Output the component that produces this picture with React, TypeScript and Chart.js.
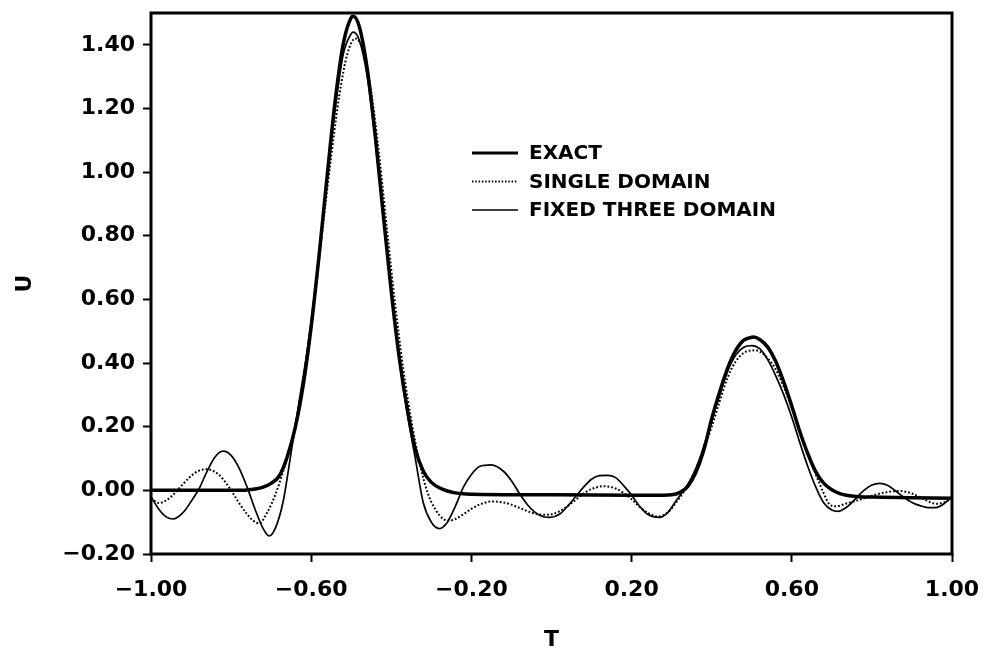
import React, { useEffect, useRef } from "react";
import { Chart, registerables } from "chart.js";

Chart.register(...registerables);

// ---- data ----
const tExact = [-1.0, -0.9, -0.8, -0.76, -0.74, -0.72, -0.7, -0.68, -0.66, -0.64, -0.62, -0.6, -0.58, -0.56, -0.54, -0.52, -0.5, -0.495, -0.48, -0.46, -0.44, -0.42, -0.4, -0.38, -0.36, -0.34, -0.32, -0.3, -0.28, -0.26, -0.24, -0.22, -0.2, 0.0, 0.2, 0.28, 0.3, 0.32, 0.34, 0.36, 0.38, 0.4, 0.42, 0.44, 0.46, 0.48, 0.5, 0.505, 0.52, 0.54, 0.56, 0.58, 0.6, 0.62, 0.64, 0.66, 0.68, 0.7, 0.72, 0.74, 0.76, 0.8, 0.9, 1.0];
const uExact = [0, 0, 0, 0.001, 0.004, 0.01, 0.022, 0.045, 0.105, 0.196, 0.33, 0.515, 0.742, 0.99, 1.226, 1.403, 1.486, 1.49, 1.458, 1.324, 1.113, 0.866, 0.624, 0.416, 0.255, 0.13, 0.06, 0.025, 0.008, -0.002, -0.008, -0.011, -0.012, -0.014, -0.015, -0.015, -0.014, -0.007, 0.012, 0.055, 0.125, 0.225, 0.31, 0.385, 0.44, 0.472, 0.481, 0.482, 0.474, 0.45, 0.405, 0.34, 0.265, 0.185, 0.115, 0.058, 0.022, 0.002, -0.01, -0.016, -0.019, -0.021, -0.023, -0.025];

const tSingle = [-1.0, -0.98, -0.96, -0.94, -0.92, -0.9, -0.88, -0.86, -0.84, -0.82, -0.8, -0.78, -0.76, -0.745, -0.73, -0.71, -0.69, -0.67, -0.65, -0.63, -0.61, -0.59, -0.57, -0.55, -0.53, -0.51, -0.49, -0.47, -0.45, -0.43, -0.41, -0.39, -0.37, -0.35, -0.33, -0.31, -0.29, -0.27, -0.255, -0.24, -0.22, -0.2, -0.18, -0.15, -0.12, -0.1, -0.08, -0.05, -0.02, 0.0, 0.02, 0.04, 0.06, 0.08, 0.1, 0.13, 0.16, 0.18, 0.2, 0.22, 0.24, 0.265, 0.29, 0.31, 0.33, 0.35, 0.37, 0.4, 0.42, 0.44, 0.46, 0.48, 0.51, 0.54, 0.56, 0.58, 0.6, 0.62, 0.64, 0.66, 0.68, 0.695, 0.71, 0.74, 0.78, 0.82, 0.87, 0.9, 0.93, 0.96, 0.98, 1.0];
const uSingle = [-0.025, -0.04, -0.03, -0.008, 0.02, 0.045, 0.062, 0.066, 0.058, 0.035, 0.0, -0.04, -0.075, -0.095, -0.104, -0.07, -0.015, 0.06, 0.145, 0.27, 0.43, 0.62, 0.84, 1.05, 1.24, 1.37, 1.42, 1.38, 1.25, 1.05, 0.81, 0.58, 0.38, 0.22, 0.09, -0.005, -0.06, -0.09, -0.095, -0.09, -0.075, -0.058, -0.045, -0.035, -0.038, -0.045, -0.055, -0.07, -0.077, -0.075, -0.066, -0.05, -0.03, -0.01, 0.004, 0.013, 0.006, -0.008, -0.028, -0.052, -0.07, -0.082, -0.07, -0.04, -0.005, 0.04, 0.095, 0.2, 0.28, 0.355, 0.405, 0.432, 0.44, 0.415, 0.38, 0.325, 0.26, 0.185, 0.115, 0.05, -0.01, -0.045, -0.05, -0.04, -0.025, -0.01, -0.002, -0.01, -0.028, -0.042, -0.038, -0.025];

const tFixed = [-1.0, -0.98, -0.96, -0.945, -0.92, -0.9, -0.88, -0.86, -0.84, -0.82, -0.8, -0.78, -0.76, -0.74, -0.72, -0.705, -0.69, -0.67, -0.65, -0.63, -0.61, -0.58, -0.56, -0.54, -0.52, -0.5, -0.495, -0.48, -0.46, -0.44, -0.42, -0.4, -0.38, -0.36, -0.34, -0.32, -0.3, -0.28, -0.26, -0.24, -0.22, -0.2, -0.18, -0.15, -0.12, -0.1, -0.08, -0.06, -0.04, -0.02, -0.005, 0.02, 0.04, 0.06, 0.08, 0.1, 0.12, 0.14, 0.16, 0.18, 0.2, 0.22, 0.24, 0.27, 0.29, 0.31, 0.33, 0.35, 0.37, 0.4, 0.42, 0.44, 0.46, 0.48, 0.5, 0.52, 0.54, 0.56, 0.58, 0.6, 0.62, 0.64, 0.66, 0.68, 0.7, 0.715, 0.74, 0.76, 0.78, 0.8, 0.82, 0.84, 0.86, 0.88, 0.9, 0.92, 0.94, 0.96, 0.98, 1.0];
const uFixed = [-0.02, -0.06, -0.085, -0.09, -0.07, -0.035, 0.005, 0.06, 0.105, 0.123, 0.11, 0.07, 0.01, -0.06, -0.12, -0.143, -0.12, -0.035, 0.12, 0.28, 0.44, 0.74, 0.98, 1.2, 1.37, 1.435, 1.44, 1.415, 1.3, 1.1, 0.86, 0.62, 0.41, 0.24, 0.1, -0.04, -0.1, -0.12, -0.1, -0.05, 0.01, 0.05, 0.075, 0.08, 0.06, 0.03, -0.01, -0.045, -0.07, -0.083, -0.085, -0.075, -0.05, -0.02, 0.01, 0.035, 0.046, 0.047, 0.04, 0.015, -0.015, -0.05, -0.075, -0.085, -0.07, -0.035, 0.0, 0.04, 0.1, 0.22, 0.3, 0.375, 0.425, 0.45, 0.455, 0.445, 0.41, 0.36, 0.3, 0.23, 0.15, 0.075, 0.01, -0.04, -0.062, -0.066, -0.05, -0.025, 0.0, 0.017, 0.022, 0.015, -0.003, -0.022, -0.038, -0.048, -0.054, -0.054, -0.042, -0.02];

const xTicks = [-1.0, -0.6, -0.2, 0.2, 0.6, 1.0];
const yTicks = [-0.2, 0.0, 0.2, 0.4, 0.6, 0.8, 1.0, 1.2, 1.4];
const legendLabels = ["EXACT", "SINGLE DOMAIN", "FIXED THREE DOMAIN"];
const xTitle = "T";
const yTitle = "U";

const FONT = "'DejaVu Sans', sans-serif";

const fmt = (v: number) => {
  if (Math.abs(v) < 1e-9) return "0.00";
  const s = v.toFixed(2);
  return s.replace("-", "\u2212");
};

const toPts = (t: number[], u: number[]) => t.map((x, i) => ({ x, y: u[i] }));

const framePlugin = {
  id: "frame",
  afterDraw(chart: any) {
    const { ctx, chartArea } = chart;
    ctx.save();
    ctx.strokeStyle = "#000";
    ctx.lineWidth = 3;
    ctx.strokeRect(chartArea.left, chartArea.top, chartArea.right - chartArea.left, chartArea.bottom - chartArea.top);
    ctx.restore();
  },
};

const legendPlugin = {
  id: "inlineLegend",
  afterDatasetsDraw(chart: any) {
    const { ctx } = chart;
    const x0 = 472;
    const x1 = 518;
    const tx = 529;
    const ys = [153, 181.5, 210];
    const styles = [
      { w: 3, dash: [] as number[] },
      { w: 1.8, dash: [1.5, 1.8] },
      { w: 1.5, dash: [] as number[] },
    ];
    ctx.save();
    legendLabels.forEach((lab, i) => {
      ctx.beginPath();
      ctx.strokeStyle = "#000";
      ctx.lineWidth = styles[i].w;
      ctx.setLineDash(styles[i].dash);
      ctx.moveTo(x0, ys[i]);
      ctx.lineTo(x1, ys[i]);
      ctx.stroke();
      ctx.setLineDash([]);
      ctx.fillStyle = "#000";
      ctx.font = `bold 20px ${FONT}`;
      ctx.textBaseline = "middle";
      ctx.textAlign = "left";
      ctx.fillText(lab, tx, ys[i] + 1);
    });
    ctx.restore();
  },
};

export default function App() {
  const ref = useRef<HTMLCanvasElement | null>(null);
  useEffect(() => {
    if (!ref.current) return;
    const chart = new Chart(ref.current, {
      type: "line",
      data: {
        datasets: [
          {
            label: legendLabels[1],
            data: toPts(tSingle, uSingle),
            borderColor: "#000",
            borderWidth: 2,
            borderDash: [1.8, 2],
            pointRadius: 0,
            cubicInterpolationMode: "monotone",
            fill: false,
          },
          {
            label: legendLabels[2],
            data: toPts(tFixed, uFixed),
            borderColor: "#000",
            borderWidth: 1.7,
            pointRadius: 0,
            cubicInterpolationMode: "monotone",
            fill: false,
          },
          {
            label: legendLabels[0],
            data: toPts(tExact, uExact),
            borderColor: "#000",
            borderWidth: 3.5,
            pointRadius: 0,
            cubicInterpolationMode: "monotone",
            fill: false,
          },
        ],
      },
      options: {
        animation: false,
        responsive: false,
        events: [],
        layout: { padding: { top: 13, right: 37, left: 0, bottom: 0 } },
        plugins: {
          legend: { display: false },
          tooltip: { enabled: false },
        },
        scales: {
          x: {
            type: "linear",
            min: -1,
            max: 1,
            afterBuildTicks: (s: any) => {
              s.ticks = xTicks.map((v) => ({ value: v }));
            },
            afterFit: (s: any) => {
              s.height = 106;
              s.paddingLeft = 0;
              s.paddingRight = 0;
            },
            grid: {
              display: true,
              drawOnChartArea: false,
              drawTicks: true,
              tickLength: 8,
              tickColor: "#000",
              tickWidth: 2,
              color: "#000",
            },
            border: { display: false },
            ticks: {
              autoSkip: false,
              maxRotation: 0,
              color: "#000",
              padding: 15,
              font: { family: FONT, size: 22, weight: "bold" },
              callback: (v: any) => fmt(Number(v)),
            },
            title: {
              display: true,
              text: xTitle,
              color: "#000",
              font: { family: FONT, size: 22, weight: "bold" },
              padding: { top: 0, bottom: 7 },
            },
          },
          y: {
            type: "linear",
            min: -0.2,
            max: 1.5,
            afterBuildTicks: (s: any) => {
              s.ticks = yTicks.map((v) => ({ value: v }));
            },
            afterFit: (s: any) => {
              s.width = 151;
              s.paddingTop = 0;
              s.paddingBottom = 0;
            },
            grid: {
              display: true,
              drawOnChartArea: false,
              drawTicks: true,
              tickLength: 8,
              tickColor: "#000",
              tickWidth: 2,
              color: "#000",
            },
            border: { display: false },
            ticks: {
              autoSkip: false,
              color: "#000",
              padding: 8,
              font: { family: FONT, size: 22, weight: "bold" },
              callback: (v: any) => fmt(Number(v)),
            },
            title: {
              display: true,
              text: yTitle,
              color: "#000",
              font: { family: FONT, size: 22, weight: "bold" },
              padding: { top: 12, bottom: 0 },
            },
          },
        },
      } as any,
      plugins: [framePlugin, legendPlugin],
    });
    return () => chart.destroy();
  }, []);
  return (
    <div style={{ position: "absolute", left: 0, top: 0, width: 989, height: 660, background: "#fff" }}>
      <canvas ref={ref} width={989} height={660} style={{ display: "block" }} />
    </div>
  );
}
